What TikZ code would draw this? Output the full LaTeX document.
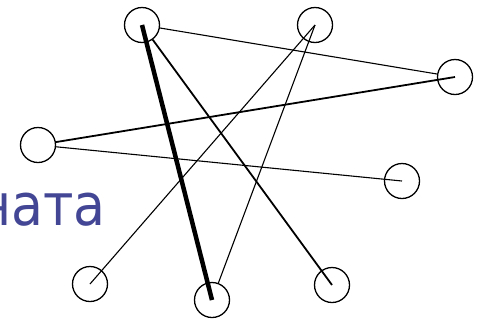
\documentclass[tikz,border=0pt]{standalone}
\usepackage{fontspec}
\newfontfamily\wordfont{DejaVu Sans Condensed}
\usepackage{tikz}
\definecolor{wordblue}{RGB}{66,70,148}

\begin{document}
\begin{tikzpicture}[x=1pt, y=-1pt,
  vert/.style={circle, draw, minimum size=35pt, inner sep=0pt, line width=1.3pt},
  thinedge/.style={line width=1.1pt},
  midedge/.style={line width=1.8pt},
  boldedge/.style={line width=4.5pt}
]
\useasboundingbox (0,0) rectangle (481,322);

% vertices
\node[vert] (a) at (142,25)  {};
\node[vert] (b) at (315,25)  {};
\node[vert] (c) at (455,77)  {};
\node[vert] (d) at (38,145)  {};
\node[vert] (e) at (402,181) {};
\node[vert] (f) at (90,284)  {};
\node[vert] (g) at (212,300) {};
\node[vert] (h) at (332,285) {};

% edges
\draw[thinedge] (a) -- (c);
\draw[boldedge] (a.center) -- (g.center);
\draw[midedge]  (a) -- (h.center);
\draw[thinedge] (b.center) -- (f.center);
\draw[thinedge] (b.center) -- (g);
\draw[midedge]  (d) -- (c.center);
\draw[thinedge] (d) -- (e.center);

% cut-off word at the left
\node[font=\wordfont\fontsize{58}{58}\selectfont, text=wordblue, anchor=base east,
  inner sep=0pt] (word) at (106,225) {ната};

\end{tikzpicture}
\end{document}
